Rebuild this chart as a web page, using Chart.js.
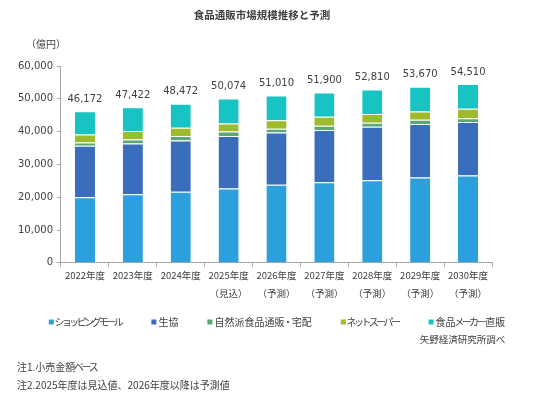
<!DOCTYPE html>
<html><head><meta charset="utf-8">
<script src="https://cdn.jsdelivr.net/npm/chart.js@4"></script>
<style>html,body{margin:0;padding:0;background:#fff;}#wrap{width:549px;height:400px;}</style>
</head><body><div id="wrap"><canvas id="c" width="549" height="400"></canvas></div>
<script>
const categories = [["2022年度"],["2023年度"],["2024年度"],["2025年度","（見込）"],["2026年度","（予測）"],["2027年度","（予測）"],["2028年度","（予測）"],["2029年度","（予測）"],["2030年度","（予測）"]];
const seriesNames = ["ショッピングモール","生協","自然派食品通販・宅配","ネットスーパー","食品メーカー直販"];
const mall    = [20000,20900,21700,22700,23800,24600,25200,26000,26600];
const coop    = [15700,15500,15600,16000,15900,15900,16300,16300,16300];
const natural = [1000,1200,1400,1300,1200,1300,1200,1300,1200];
const netSuper= [2400,2600,2500,2500,2600,2700,2700,2500,2900];
const maker   = [7072,7222,7272,7574,7510,7400,7410,7570,7510];
const totals  = [46172,47422,48472,50074,51010,51900,52810,53670,54510];
const colors  = ["#2ca0dc","#3a6dbb","#5aa876","#9dbb2b","#17c3c3"];
const yTicks  = [0,10000,20000,30000,40000,50000,60000];
const titleText = "食品通販市場規模推移と予測";
const unitText = "（億円）";
const sourceText = "矢野経済研究所調べ";
const notes = ["注1.小売金額ベース","注2.2025年度は見込値、2026年度以降は予測値"];

const NUMFONT = "'DejaVu Sans','Noto Sans CJK JP',sans-serif";
const JPFONT = "'Noto Sans CJK JP',sans-serif";
const TXT = "#404040";
const seriesData = [mall, coop, natural, netSuper, maker];

// Katakana are drawn with proportional (narrower) advance, like the original's UI font
const isKana = ch => { const c = ch.charCodeAt(0); return c >= 0x30A0 && c <= 0x30FF; };
function jpWidth(ctx, text) {
  let w = 0;
  for (const ch of text) { const m = ctx.measureText(ch).width; w += isKana(ch) ? m * 0.74 : m; }
  return w;
}
function drawJP(ctx, text, x, y) {
  ctx.textAlign = 'left';
  let cx = x;
  for (const ch of text) {
    const m = ctx.measureText(ch).width;
    const adv = isKana(ch) ? m * 0.74 : m;
    ctx.fillText(ch, cx + (adv - m) / 2, y);
    cx += adv;
  }
  return cx - x;
}

const extras = {
  id: 'extras',
  afterDraw(chart) {
    const ctx = chart.ctx;
    ctx.save();
    ctx.fillStyle = TXT;
    ctx.textBaseline = 'middle';
    // title
    ctx.font = "bold 10.5px " + JPFONT;
    ctx.textAlign = 'center';
    ctx.fillText(titleText, 262, 15);
    // unit
    ctx.font = "10px " + JPFONT;
    ctx.fillText(unitText, 46, 44);
    // totals
    const last = chart.getDatasetMeta(chart.data.datasets.length - 1);
    ctx.font = "10px " + NUMFONT;
    last.data.forEach((bar, i) => {
      ctx.fillText(totals[i].toLocaleString('en-US'), bar.x, bar.y - 12);
    });
    // legend
    ctx.font = "10px " + JPFONT;
    const box = 5, gapBT = 2, spacing = 29;
    const widths = chart.data.datasets.map(d => box + gapBT + jpWidth(ctx, d.label));
    const total = widths.reduce((a, b) => a + b, 0) + spacing * (widths.length - 1);
    let x = 277 - total / 2;
    const ly = 322;
    let legendEnd = 0;
    chart.data.datasets.forEach((d, i) => {
      ctx.fillStyle = d.backgroundColor;
      ctx.fillRect(x, ly - box / 2, box, box);
      ctx.fillStyle = TXT;
      drawJP(ctx, d.label, x + box + gapBT, ly);
      legendEnd = x + widths[i];
      x += widths[i] + spacing;
    });
    // source (right-aligned with legend end)
    ctx.font = "9.5px " + JPFONT;
    const sw = jpWidth(ctx, sourceText);
    drawJP(ctx, sourceText, legendEnd - sw, 339);
    // notes
    ctx.font = "10px " + JPFONT;
    drawJP(ctx, notes[0], 17, 367);
    drawJP(ctx, notes[1], 17, 385);
    ctx.restore();
  }
};

new Chart(document.getElementById('c'), {
  type: 'bar',
  data: {
    labels: categories,
    datasets: seriesNames.map((n, i) => ({
      label: n,
      data: seriesData[i],
      backgroundColor: colors[i],
      borderColor: '#ffffff',
      borderWidth: {top: 1, bottom: 0, left: 0, right: 0},
      borderSkipped: false,
      barPercentage: 0.42,
      categoryPercentage: 1.0
    }))
  },
  options: {
    responsive: false,
    animation: false,
    devicePixelRatio: 1,
    layout: {padding: {top: 66, left: 14, right: 57, bottom: 98}},
    plugins: {legend: {display: false}, title: {display: false}, tooltip: {enabled: false}},
    scales: {
      x: {
        stacked: true,
        grid: {display: true, drawOnChartArea: false, drawTicks: true, tickLength: 4, offset: true, color: '#a6a6a6'},
        border: {display: true, color: '#a6a6a6'},
        ticks: {color: TXT, font: {family: JPFONT, size: 9.5, lineHeight: 1.85}, padding: 0, maxRotation: 0, autoSkip: false}
      },
      y: {
        stacked: true,
        min: 0, max: 60000,
        afterBuildTicks(scale) { scale.ticks = yTicks.map(v => ({value: v})); },
        grid: {display: true, drawOnChartArea: false, drawTicks: true, tickLength: 4, color: '#a6a6a6'},
        border: {display: true, color: '#a6a6a6'},
        ticks: {color: TXT, font: {family: NUMFONT, size: 10}, padding: 4, callback: v => v.toLocaleString('en-US')}
      }
    }
  },
  plugins: [extras]
});
</script></body></html>
